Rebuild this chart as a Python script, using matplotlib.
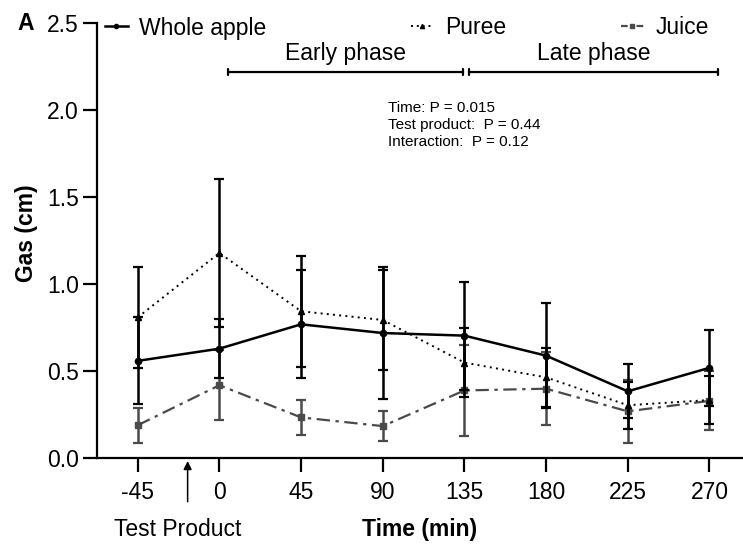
import matplotlib
matplotlib.use("Agg")
import matplotlib.pyplot as plt
from matplotlib.lines import Line2D

plt.rcParams['font.family'] = ['Liberation Sans', 'DejaVu Sans']

# data
times = [-45, 0, 45, 90, 135, 180, 225, 270]
whole = [0.56, 0.63, 0.77, 0.72, 0.705, 0.59, 0.385, 0.52]
whole_err = [0.25, 0.17, 0.31, 0.38, 0.31, 0.30, 0.155, 0.22]
puree = [0.81, 1.18, 0.845, 0.795, 0.55, 0.465, 0.305, 0.335]
puree_err = [0.29, 0.425, 0.32, 0.29, 0.20, 0.17, 0.135, 0.14]
juice = [0.19, 0.42, 0.235, 0.185, 0.39, 0.40, 0.27, 0.33]
juice_err = [0.10, 0.20, 0.10, 0.085, 0.26, 0.21, 0.18, 0.17]
yticks = [0.0, 0.5, 1.0, 1.5, 2.0, 2.5]
stats_text = ["Time: P = 0.015", "Test product:  P = 0.44", "Interaction:  P = 0.12"]

W, H = 743, 544
fig = plt.figure(figsize=(W / 100, H / 100), dpi=100)
ax = fig.add_axes([96.7 / W, 1 - 458.3 / H, 1 - 96.7 / W, (458.3 - 23.3) / H])

fs = 16.5
juice_col = '#4a4a4a'

# series
ax.errorbar(times, juice, yerr=juice_err, color=juice_col, ls=(0, (6, 2.5, 1.5, 2.5)),
            lw=1.6, marker='s', ms=4.5, capsize=3.3, capthick=1.6, elinewidth=1.8, zorder=2)
ax.errorbar(times, puree, yerr=puree_err, color='black', ls=(0, (1, 2.2)),
            lw=1.4, marker='^', ms=4, capsize=3.3, capthick=1.6, elinewidth=1.8, zorder=3)
ax.errorbar(times, whole, yerr=whole_err, color='black', ls='-',
            lw=1.8, marker='o', ms=4.5, capsize=3.3, capthick=1.6, elinewidth=1.8, zorder=4)

ax.set_xlim(-67.6, 288.5)
ax.set_ylim(0, 2.5)
ax.set_xticks(times)
ax.set_xticklabels([str(t) for t in times])
ax.set_yticks(yticks)
ax.set_yticklabels([f"{v:.1f}" for v in yticks])
for s in ['top', 'right']:
    ax.spines[s].set_visible(False)
for s in ['left', 'bottom']:
    ax.spines[s].set_linewidth(1.6)
ax.tick_params(axis='both', length=10, width=1.6, labelsize=fs, direction='out')
ax.tick_params(axis='x', pad=6)
ax.tick_params(axis='y', pad=3)

ax.set_xlabel("Time (min)", fontsize=fs, fontweight='bold')
ax.xaxis.set_label_coords(0.5, -0.137)
ax.xaxis.label.set_va('top')

fig.text(27 / W, 1 - 233 / H, "Gas (cm)", rotation=90, fontsize=fs,
         fontweight='bold', ha='center', va='center')
fig.text(26 / W, 1 - 23 / H, "A", fontsize=fs, fontweight='bold', ha='center', va='center')

# test product arrow
ax.annotate('', xy=(-17.5, -0.016), xytext=(-17.5, -0.25), xycoords='data',
            arrowprops=dict(arrowstyle='-|>', lw=1.1, color='black', mutation_scale=12,
                            shrinkA=0, shrinkB=0), annotation_clip=False)
fig.text(178 / W, 1 - 530 / H, "Test Product", fontsize=fs, ha='center', va='center')

# phase brackets
for x0, x1, label in [(5, 134, "Early phase"), (137.5, 274.5, "Late phase")]:
    ax.annotate('', xy=(x0, 2.22), xytext=(x1, 2.22),
                arrowprops=dict(arrowstyle='|-|, widthA=0.25, widthB=0.25', lw=1.6,
                                color='black', shrinkA=0, shrinkB=0))
    ax.text((x0 + x1) / 2, 2.26, label, fontsize=fs, ha='center', va='bottom')

# stats annotation
for i, line in enumerate(stats_text):
    fig.text(388 / W, 1 - (108 + 17 * i) / H, line, fontsize=11, ha='left', va='center')

# legend entries placed individually along the top
entries = [
    (Line2D([], [], color='black', ls='-', lw=1.8, marker='o', ms=3), "Whole apple", 105),
    (Line2D([], [], color='black', ls=(0, (1, 2)), lw=1.4, marker='^', ms=3), "Puree", 411),
    (Line2D([], [], color=juice_col, ls=(0, (3, 1.5, 1, 1.5)), lw=1.6, marker='s', ms=3), "Juice", 621),
]
for handle, label, xpx in entries:
    fig.legend(handles=[handle], labels=[label], loc='center left',
               bbox_to_anchor=(xpx / W, 1 - 28 / H), bbox_transform=fig.transFigure,
               frameon=False, fontsize=fs, handlelength=1.0, handletextpad=0.5,
               borderpad=0, borderaxespad=0)

fig.savefig("out.png", dpi=100)
